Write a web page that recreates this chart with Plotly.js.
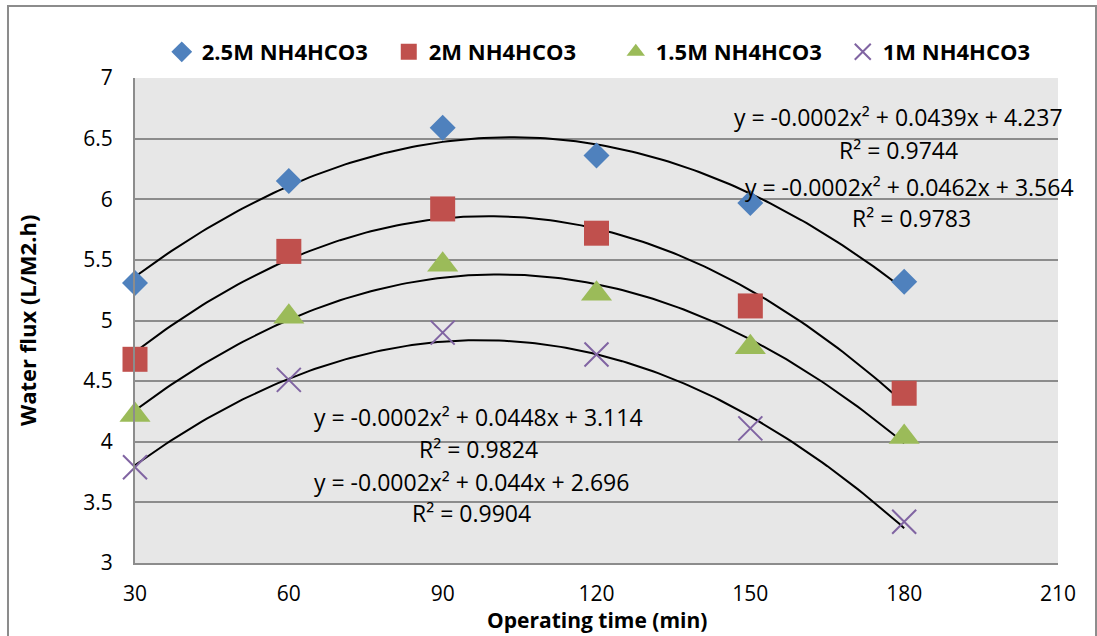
<!DOCTYPE html>
<html>
<head>
<meta charset="utf-8">
<script src="https://cdn.plot.ly/plotly-3.0.1.min.js"></script>
<style>html,body{margin:0;padding:0;background:#fff;}#chart{width:1097px;height:636px;}</style>
</head>
<body>
<div id="chart"></div>
<script>
// ---- data ----
const times = [30, 60, 90, 120, 150, 180];
const seriesNames = ["2.5M NH4HCO3", "2M NH4HCO3", "1.5M NH4HCO3", "1M NH4HCO3"];
const flux25 = [5.31, 6.15, 6.59, 6.36, 5.97, 5.32];
const flux20 = [4.68, 5.57, 5.92, 5.72, 5.12, 4.40];
const flux15 = [4.22, 5.03, 5.46, 5.22, 4.78, 4.04];
const flux10 = [3.79, 4.51, 4.90, 4.72, 4.11, 3.34];
const eqLabels = [
  "y = -0.0002x² + 0.0439x + 4.237", "R² = 0.9744",
  "y = -0.0002x² + 0.0462x + 3.564", "R² = 0.9783",
  "y = -0.0002x² + 0.0448x + 3.114", "R² = 0.9824",
  "y = -0.0002x² + 0.044x + 2.696", "R² = 0.9904"
];
const yTicks = [3, 3.5, 4, 4.5, 5, 5.5, 6, 6.5, 7];
const xTicks = [30, 60, 90, 120, 150, 180, 210];

// ---- styles ----
const styles = [
  {color: "#4f81bd", symbol: "diamond", size: 20},
  {color: "#c0504d", symbol: "square", size: 25},
  {color: "#9bbb59", symbol: "triangle-up", size: 27},
  {color: "#8064a2", symbol: "x-thin", size: 24}
];
const allFlux = [flux25, flux20, flux15, flux10];

// quadratic least-squares trendline (like Excel's polynomial trendline)
function quadFit(xs, ys) {
  let S = [0,0,0,0,0], T = [0,0,0];
  for (let i = 0; i < xs.length; i++) {
    let p = 1;
    for (let k = 0; k < 5; k++) { S[k] += p; if (k < 3) T[k] += p * ys[i]; p *= xs[i]; }
  }
  const A = [[S[0],S[1],S[2],T[0]],[S[1],S[2],S[3],T[1]],[S[2],S[3],S[4],T[2]]];
  for (let i = 0; i < 3; i++) {
    let m = i;
    for (let r = i+1; r < 3; r++) if (Math.abs(A[r][i]) > Math.abs(A[m][i])) m = r;
    [A[i], A[m]] = [A[m], A[i]];
    for (let r = 0; r < 3; r++) if (r !== i) {
      const f = A[r][i] / A[i][i];
      for (let c = i; c < 4; c++) A[r][c] -= f * A[i][c];
    }
  }
  return [A[0][3]/A[0][0], A[1][3]/A[1][1], A[2][3]/A[2][2]];
}

const traces = [];
allFlux.forEach((ys, i) => {
  const c = quadFit(times, ys);
  const tx = [], ty = [];
  for (let x = times[0]; x <= times[times.length-1]; x += 1) {
    tx.push(x); ty.push(c[0] + c[1]*x + c[2]*x*x);
  }
  traces.push({x: tx, y: ty, mode: "lines", line: {color: "#000", width: 2},
    showlegend: false, hoverinfo: "skip", cliponaxis: false});
});
allFlux.forEach((ys, i) => {
  const s = styles[i];
  traces.push({
    x: times, y: ys, name: seriesNames[i], mode: "markers", cliponaxis: false,
    marker: {color: s.color, symbol: s.symbol, size: s.size,
      line: s.symbol === "x-thin" ? {color: s.color, width: 2} : {width: 0}}
  });
});

const annPos = [
  [178.8, 6.678], [178.8, 6.406],
  [181.1, 6.101], [181.5, 5.845],
  [96.9, 4.204], [96.9, 3.940],
  [95.7, 3.668], [95.7, 3.412]
];
const annotations = eqLabels.map((t, i) => ({
  x: annPos[i][0], y: annPos[i][1], xref: "x", yref: "y", text: t,
  showarrow: false, xanchor: "center", yanchor: "middle",
  font: {family: "Open Sans", size: 23, color: "#000"}
}));
annotations.push({
  xref: "paper", yref: "paper", x: 0.5, y: -0.1505, text: "<b>Operating time (min)</b>",
  showarrow: false, xanchor: "center", yanchor: "bottom",
  font: {family: "Open Sans", size: 21, color: "#000"}
});
annotations.push({
  xref: "paper", yref: "paper", x: -0.1175, y: 0.5, text: "<b>Water flux (L/M2.h)</b>",
  textangle: -90, showarrow: false, xanchor: "center", yanchor: "middle",
  font: {family: "Open Sans", size: 22, color: "#000"}
});

const layout = {
  width: 1097, height: 636,
  margin: {l: 135, r: 39, t: 78, b: 73},
  paper_bgcolor: "#ffffff",
  plot_bgcolor: "#e7e7e7",
  font: {family: "Open Sans", color: "#000"},
  showlegend: true,
  legend: {
    orientation: "h", x: 0.029, xanchor: "left", y: 1.0536, yanchor: "middle",
    entrywidth: 182, entrywidthmode: "pixels",
    font: {family: "Open Sans", size: 22, color: "#000", weight: "bold"},
    bgcolor: "rgba(0,0,0,0)"
  },
  xaxis: {
    range: [30, 210], tickvals: xTicks, ticktext: xTicks.map(String),
    showgrid: false, zeroline: false,
    showline: true, linecolor: "#8c8c8c", linewidth: 2,
    ticks: "", ticklabelstandoff: 11,
    tickfont: {family: "Open Sans", size: 21, color: "#000"}
  },
  yaxis: {
    range: [3, 7], tickvals: yTicks, ticktext: yTicks.map(String),
    showgrid: true, gridcolor: "#8c8c8c", gridwidth: 2, zeroline: false,
    showline: true, linecolor: "#8c8c8c", linewidth: 2,
    ticks: "", ticklabelstandoff: 16,
    tickfont: {family: "Open Sans", size: 21, color: "#000"}
  },
  shapes: [{
    type: "rect", xref: "paper", yref: "paper",
    x0: -0.1376, x1: 1.0412, y0: -0.16, y1: 1.1485,
    line: {color: "#8c8c8c", width: 2}, fillcolor: "rgba(0,0,0,0)"
  }],
  annotations: annotations
};

Plotly.newPlot("chart", traces, layout, {displayModeBar: false, staticPlot: true});
</script>
</body>
</html>
